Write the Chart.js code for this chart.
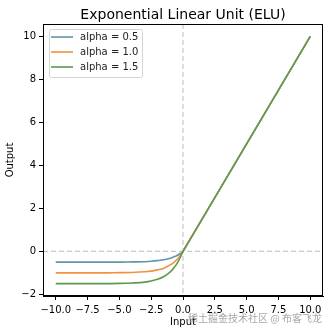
<!DOCTYPE html>
<html>
<head>
<meta charset="utf-8">
<script src="https://cdn.jsdelivr.net/npm/chart.js@4"></script>
<style>
  html, body { margin: 0; padding: 0; background: #fff; }
  #wrap { width: 332px; height: 334px; }
</style>
</head>
<body>
<div id="wrap"><canvas id="myChart" width="332" height="334"></canvas></div>
<script>
// values
var xs = [-10, -8, -6, -5, -4, -3, -2.5, -2, -1.5, -1, -0.75, -0.5, -0.25, 0, 0.5, 1, 2.5, 5, 7.5, 10];
var elu05 = [-0.5, -0.5, -0.5, -0.5, -0.49, -0.48, -0.46, -0.43, -0.39, -0.32, -0.26, -0.2, -0.11, 0, 0.5, 1, 2.5, 5, 7.5, 10];
var elu10 = [-1, -1, -1, -0.99, -0.98, -0.95, -0.92, -0.86, -0.78, -0.63, -0.53, -0.39, -0.22, 0, 0.5, 1, 2.5, 5, 7.5, 10];
var elu15 = [-1.5, -1.5, -1.5, -1.49, -1.47, -1.43, -1.38, -1.3, -1.17, -0.95, -0.79, -0.59, -0.33, 0, 0.5, 1, 2.5, 5, 7.5, 10];
var seriesNames = ['alpha = 0.5', 'alpha = 1.0', 'alpha = 1.5'];
var colors = ['#6395a6', '#f0923c', '#5c9a50'];
var xTicks = [-10, -7.5, -5, -2.5, 0, 2.5, 5, 7.5, 10];
var yTicks = [-2, 0, 2, 4, 6, 8, 10];

var FONT = "'DejaVu Sans', sans-serif";

function toPoints(ys) {
    return xs.map(function (x, i) { return { x: x, y: ys[i] }; });
}

var extras = {
    id: 'extras',
    beforeDatasetsDraw: function (chart) {
        var c = chart.ctx, a = chart.chartArea;
        var x0 = chart.scales.x.getPixelForValue(0);
        var y0 = chart.scales.y.getPixelForValue(0);
        c.save();
        c.strokeStyle = '#c8c8c8';
        c.lineWidth = 1.2;
        c.setLineDash([5, 3]);
        c.beginPath();
        c.moveTo(a.left, y0); c.lineTo(a.right, y0);
        c.moveTo(x0, a.top); c.lineTo(x0, a.bottom);
        c.stroke();
        c.restore();
    },
    afterDraw: function (chart) {
        var c = chart.ctx, a = chart.chartArea;
        c.save();
        // frame
        c.strokeStyle = '#000';
        c.lineWidth = 1;
        c.strokeRect(a.left + 0.5, a.top + 0.5, a.right - a.left - 1, a.bottom - a.top - 1);
        // title
        c.fillStyle = '#000';
        c.textAlign = 'center';
        c.textBaseline = 'alphabetic';
        c.font = '14px ' + FONT;
        c.fillText('Exponential Linear Unit (ELU)', (a.left + a.right) / 2, 19);
        // axis titles
        c.font = '10px ' + FONT;
        c.fillText('Input', (a.left + a.right) / 2, 325);
        c.save();
        c.translate(13, (a.top + a.bottom) / 2);
        c.rotate(-Math.PI / 2);
        c.fillText('Output', 0, 0);
        c.restore();
        // legend
        var lx = 49, ly = 29, lw = 93, lh = 48;
        c.fillStyle = 'rgba(255,255,255,0.8)';
        c.strokeStyle = '#d5d5d5';
        c.beginPath();
        c.roundRect(lx + 0.5, ly + 0.5, lw, lh, 2);
        c.fill();
        c.stroke();
        c.textAlign = 'left';
        c.textBaseline = 'middle';
        c.font = '10px ' + FONT;
        for (var i = 0; i < seriesNames.length; i++) {
            var yy = ly + 8 + i * 15;
            c.strokeStyle = colors[i];
            c.lineWidth = 1.6;
            c.beginPath();
            c.moveTo(lx + 2, yy); c.lineTo(lx + 24, yy);
            c.stroke();
            c.fillStyle = '#222';
            c.fillText(seriesNames[i], lx + 31, yy + 0.5);
        }
        // watermark
        c.textAlign = 'right';
        c.textBaseline = 'middle';
        c.font = "10px 'Noto Sans CJK SC', sans-serif";
        c.fillStyle = 'rgba(130,130,130,0.7)';
        c.fillText('稀土掘金技术社区 @ 布客飞龙', 322, 318);
        c.restore();
    }
};

var datasets = [elu05, elu10, elu15].map(function (ys, i) {
    return {
        label: seriesNames[i],
        data: toPoints(ys),
        borderColor: colors[i],
        backgroundColor: colors[i],
        borderWidth: 1.6,
        pointRadius: 0,
        cubicInterpolationMode: 'monotone',
        fill: false,
        order: 2 - i
    };
});

var ctx = document.getElementById('myChart').getContext('2d');
var myChart = new Chart(ctx, {
    type: 'line',
    data: { datasets: datasets },
    plugins: [extras],
    options: {
        responsive: false,
        animation: false,
        layout: { padding: { top: 24, right: 9, left: 0, bottom: 0 } },
        plugins: {
            legend: { display: false },
            title: { display: false },
            tooltip: { enabled: false }
        },
        scales: {
            x: {
                type: 'linear',
                min: -11,
                max: 11,
                afterBuildTicks: function (s) { s.ticks = xTicks.map(function (v) { return { value: v }; }); },
                afterFit: function (s) { s.height = 38; },
                grid: { display: true, drawOnChartArea: false, drawTicks: true, tickLength: 4, color: '#000' },
                border: { display: true, color: '#000' },
                ticks: {
                    color: '#000',
                    font: { family: FONT, size: 10 },
                    padding: 4,
                    maxRotation: 0,
                    callback: function (v) { return Number(v).toFixed(1).replace('-', '\u2212'); }
                }
            },
            y: {
                type: 'linear',
                min: -2.075,
                max: 10.575,
                afterBuildTicks: function (s) { s.ticks = yTicks.map(function (v) { return { value: v }; }); },
                afterFit: function (s) { s.width = 43; },
                grid: { display: true, drawOnChartArea: false, drawTicks: true, tickLength: 4, color: '#000' },
                border: { display: true, color: '#000' },
                ticks: {
                    color: '#000',
                    font: { family: FONT, size: 10 },
                    padding: 3,
                    callback: function (v) { return String(v).replace('-', '\u2212'); }
                }
            }
        }
    }
});
</script>
</body>
</html>
